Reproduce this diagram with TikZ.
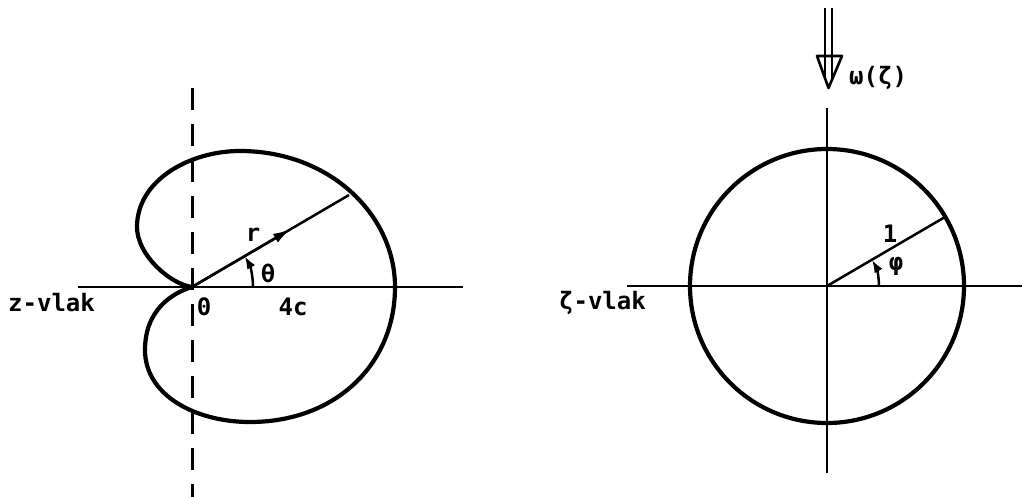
\documentclass[tikz,border=0pt]{standalone}
\usepackage{fontspec}
\newfontfamily\labfont{DejaVu Sans Mono}
\usetikzlibrary{arrows.meta,calc}
\begin{document}
\begin{tikzpicture}[x=1pt,y=-1pt,
  curve/.style={line width=4.2pt, line join=round},
  axis/.style={line width=2.5pt},
  dashline/.style={line width=3pt, dash pattern=on 22pt off 14pt},
  lab/.style={font=\labfont\bfseries\fontsize{24}{24}\selectfont, inner sep=0pt},
  tip/.style={-{Latex[length=13pt,width=9pt]}},
  bigtip/.style={-{Latex[length=18pt,width=10pt]}}]
\useasboundingbox (0,0) rectangle (1022,497);
% ---------- left: z-plane ----------
\coordinate (O) at (192,287);
\coordinate (axL) at (78,287);
\coordinate (axR) at (463,287);
\coordinate (dT) at (192,88);
\coordinate (dB) at (192,497);
\coordinate (R) at (349,195);
\draw[axis] (axL) -- (axR);
\draw[dashline] (dT) -- (dB);
\draw[curve] (O) .. controls (170,284) and (137,255) .. (137,227)
  .. controls (137,180) and (190,151) .. (240,151)
  .. controls (330,151) and (395,215) .. (395,287)
  .. controls (395,365) and (335,422) .. (250,422)
  .. controls (195,422) and (145,395) .. (145,350)
  .. controls (145,310) and (172,293) .. (O);
\draw[axis] (O) -- (R);
\draw[axis, bigtip] (O) -- ($(O)!0.63!(R)$);
\draw[axis, tip] (253,287) arc[start angle=0, end angle=-30.5, radius=61];
\node[lab] (zlab) at (8,303) [anchor=west] {z-vlak};
\node[lab] (zero) at (204,307) {0};
\node[lab] (fourc) at (293,307) {4c};
\node[lab] (rlab) at (253,235) {r};
\node[lab] (thlab) at (268,273) {θ};
% ---------- right: zeta-plane ----------
\coordinate (C) at (827,286);
\coordinate (hL) at (627,286);
\coordinate (hR) at (1022,286);
\coordinate (vT) at (827,108);
\coordinate (vB) at (827,473);
\coordinate (P) at (945,217);
\draw[axis] (hL) -- (hR);
\draw[axis] (vT) -- (vB);
\draw[curve] (C) circle[radius=137];
\draw[axis] (C) -- (P);
\draw[axis, tip] (879,286) arc[start angle=0, end angle=-30.4, radius=52];
\node[lab] (zetalab) at (646,303) [anchor=east] {ζ-vlak};
\node[lab] (one) at (890,234) {1};
\node[lab] (philab) at (896,266) {φ};
% double arrow
\coordinate (a1) at (825,8);
\coordinate (a2) at (832,8);
\coordinate (b1) at (825,78);
\coordinate (b2) at (832,78);
\coordinate (t1) at (817,56);
\coordinate (t2) at (842,56);
\coordinate (t3) at (828.5,88);
\draw[line width=2.2pt] (a1) -- (b1) (a2) -- (b2);
\draw[line width=2.6pt, line join=round] (t1) -- (t2) -- (t3) -- cycle;
\node[lab] (omlab) at (849,78) [anchor=west] {ω(ζ)};
\end{tikzpicture}
\end{document}
